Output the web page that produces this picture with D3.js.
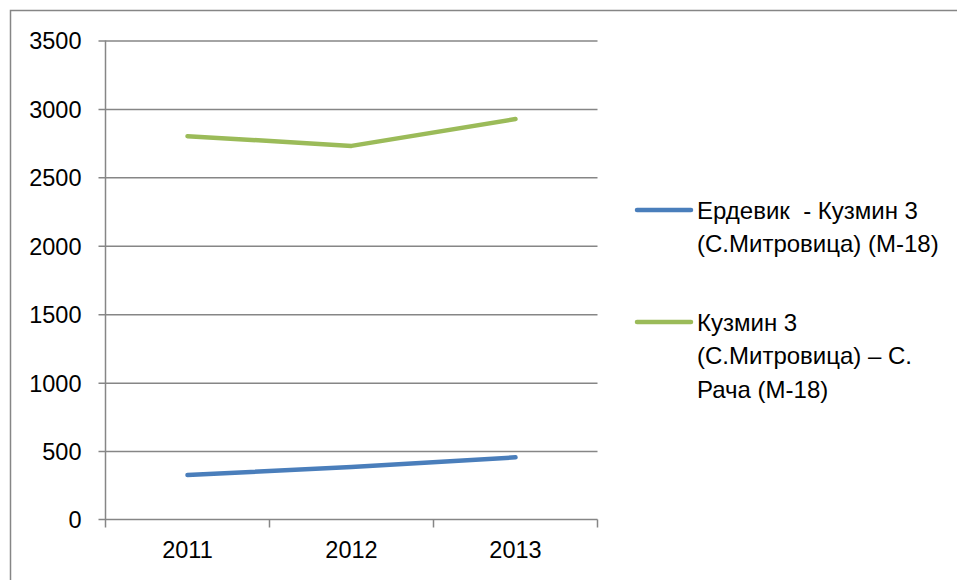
<!DOCTYPE html>
<html>
<head>
    <meta charset="utf-8">
    <title>Line chart</title>
    <script src="https://d3js.org/d3.v7.min.js"></script>
    <style>
        body { margin: 0; background: #fff; }
        text { font-family: "Liberation Sans", Arial, sans-serif; fill: #000; white-space: pre; }
    </style>
</head>
<body>
<svg width="957" height="580"></svg>
<script>
    const width = 957;
    const height = 580;

    // data
    const years = ["2011", "2012", "2013"];
    const erdevikValues = [325, 383, 454];
    const kuzminValues = [2801, 2730, 2926];
    const yTicks = [0, 500, 1000, 1500, 2000, 2500, 3000, 3500];
    const seriesNames = [
        ["Ердевик  - Кузмин 3", "(С.Митровица) (М-18)"],
        ["Кузмин 3", "(С.Митровица) – С.", "Рача (М-18)"]
    ];
    const seriesColors = ["#4a7ebb", "#9bbb59"];

    const series = [erdevikValues, kuzminValues].map((vals, i) => ({
        name: seriesNames[i],
        color: seriesColors[i],
        values: vals.map((v, j) => ({ year: years[j], value: v }))
    }));

    const plot = { left: 105.5, right: 597.5, top: 40.5, bottom: 519.5 };
    const gridColor = "#868686";

    const svg = d3.select("svg");

    // outer chart border (runs off the right and bottom edge)
    svg.append("rect")
        .attr("x", 10.5).attr("y", 10.5)
        .attr("width", width).attr("height", height)
        .attr("fill", "none")
        .attr("stroke", gridColor)
        .attr("stroke-width", 1.5);

    const x = d3.scaleBand()
        .domain(years)
        .range([plot.left, plot.right]);

    const y = d3.scaleLinear()
        .domain([0, 3500])
        .range([plot.bottom, plot.top]);

    // gridlines + y axis
    const yAxis = d3.axisLeft(y)
        .tickValues(yTicks)
        .tickSize(7)
        .tickPadding(17)
        .tickFormat(d3.format("d"));

    const gy = svg.append("g")
        .attr("transform", `translate(${plot.left},0)`)
        .call(yAxis);
    gy.select(".domain").attr("stroke", gridColor).attr("stroke-width", 1.5)
        .attr("d", `M0,${plot.top}V${plot.bottom}`);
    gy.selectAll(".tick line").attr("stroke", gridColor).attr("stroke-width", 1.5)
        .attr("x1", plot.right - plot.left);
    gy.selectAll(".tick text").attr("font-size", 23.5).attr("dy", "0.36em");
    gy.selectAll(".tick").filter(d => d === 0).select("line").remove();

    // x axis
    const xAxis = d3.axisBottom(x)
        .tickSize(0)
        .tickPadding(22);
    const gx = svg.append("g")
        .attr("transform", `translate(0,${plot.bottom})`)
        .call(xAxis);
    gx.select(".domain").attr("stroke", gridColor).attr("stroke-width", 1.5)
        .attr("d", `M${plot.left - 7},0H${plot.right}`);
    gx.selectAll(".tick text").attr("font-size", 23.5).attr("dy", "0.71em");
    gx.selectAll(".boundary")
        .data([plot.left, ...years.map(d => x(d) + x.bandwidth())])
        .join("line")
        .attr("class", "boundary")
        .attr("x1", d => d).attr("x2", d => d)
        .attr("y1", 0).attr("y2", 8)
        .attr("stroke", gridColor)
        .attr("stroke-width", 1.5);
    svg.selectAll(".domain").attr("fill", "none");

    // lines
    const line = d3.line()
        .x(d => x(d.year) + x.bandwidth() / 2)
        .y(d => y(d.value));

    svg.append("g")
        .selectAll("path")
        .data(series)
        .join("path")
        .attr("d", d => line(d.values))
        .attr("fill", "none")
        .attr("stroke", d => d.color)
        .attr("stroke-width", 4.5)
        .attr("stroke-linecap", "round")
        .attr("stroke-linejoin", "round");

    // legend
    const legendTop = [210, 322];
    const lineHeight = 33.5;
    const legend = svg.append("g")
        .selectAll("g")
        .data(series)
        .join("g")
        .attr("transform", (d, i) => `translate(637,${legendTop[i]})`);

    legend.append("line")
        .attr("x1", 0).attr("x2", 54)
        .attr("y1", 0).attr("y2", 0)
        .attr("stroke", d => d.color)
        .attr("stroke-width", 4.5)
        .attr("stroke-linecap", "round");

    legend.append("text")
        .attr("x", 60)
        .attr("font-size", 24)
        .selectAll("tspan")
        .data(d => d.name)
        .join("tspan")
        .attr("x", 60)
        .attr("y", (d, i) => i * lineHeight)
        .attr("dy", "0.36em")
        .text(d => d);
</script>
</body>
</html>
